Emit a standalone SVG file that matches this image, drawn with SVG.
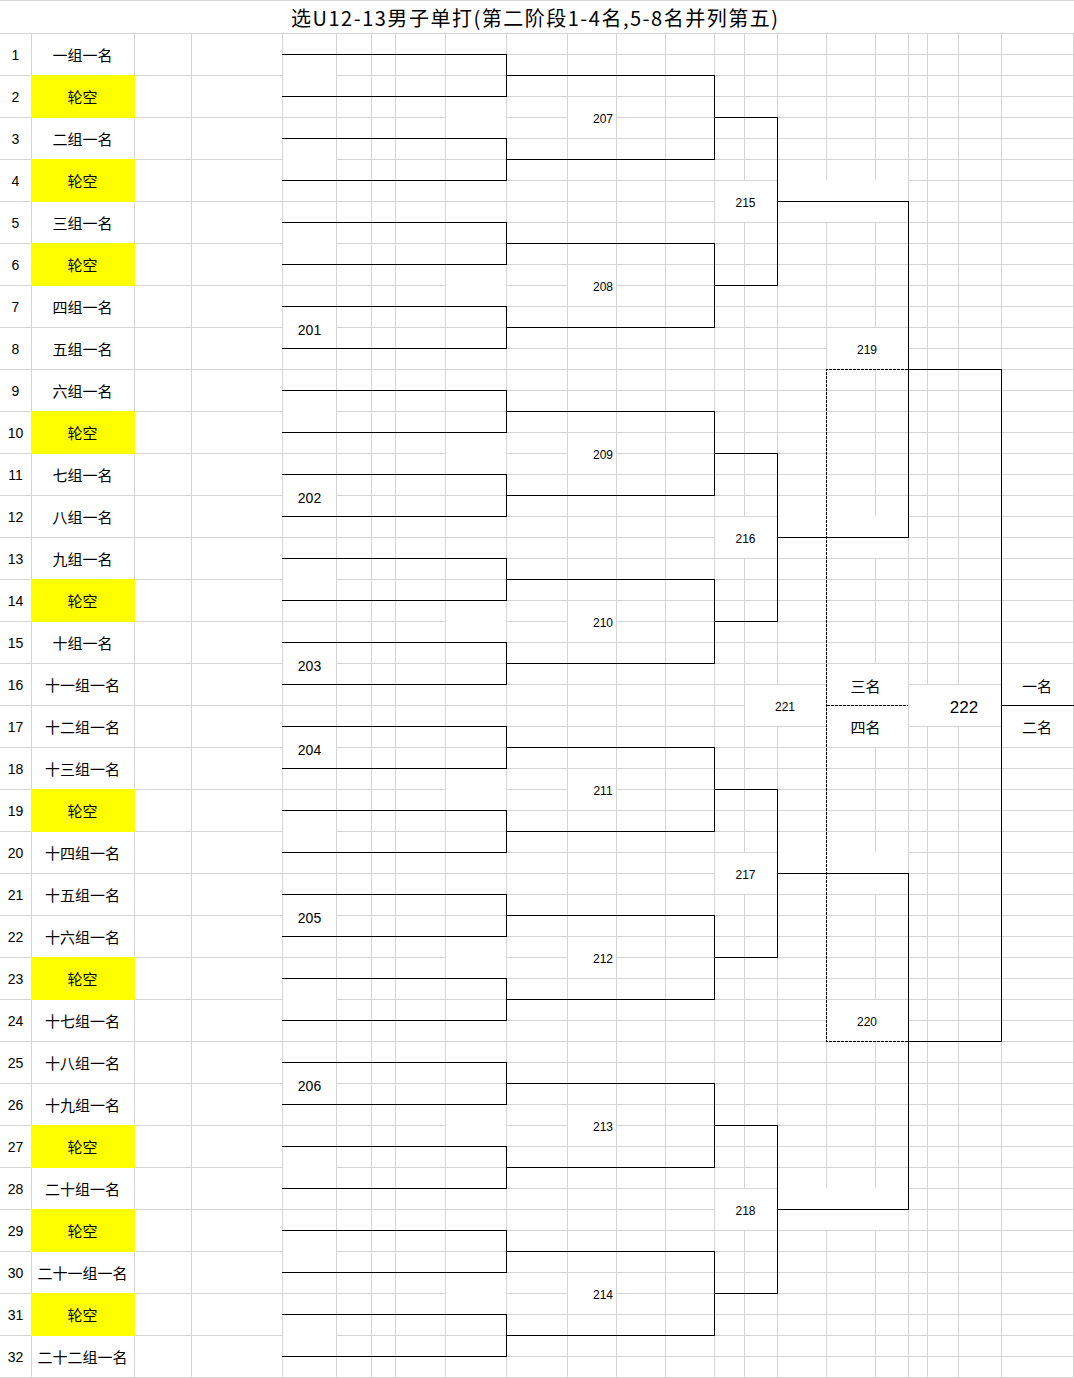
<svg xmlns="http://www.w3.org/2000/svg" width="1074" height="1378" viewBox="0 0 1074 1378">
<style>
.grid{fill:none;stroke:#d4d4d4;stroke-width:1;shape-rendering:crispEdges}
.cover{fill:#ffffff}
.bye{fill:#ffff00}
.ln{fill:none;stroke:#000;stroke-width:1;shape-rendering:crispEdges}
.dash{fill:none;stroke:#000;stroke-width:1;stroke-dasharray:3 1;shape-rendering:crispEdges}
.num{font-family:"Liberation Sans",Arial,sans-serif;font-size:14px;text-anchor:middle;fill:#000}
.name{font-family:"Noto Sans CJK SC","Noto Sans",sans-serif;font-size:15px;text-anchor:middle;fill:#000}
.m14{font-family:"Liberation Sans",Arial,sans-serif;font-size:14px;text-anchor:middle;fill:#000}
.m12{font-family:"Liberation Sans",Arial,sans-serif;font-size:12px;text-anchor:middle;fill:#000}
.m17{font-family:"Liberation Sans",Arial,sans-serif;font-size:17px;text-anchor:middle;fill:#000}
.title{font-family:"Noto Sans CJK SC","Noto Sans",sans-serif;font-size:20px;text-anchor:middle;fill:#000}
</style>
<rect x="0" y="0" width="1074" height="1378" fill="#ffffff"/>
<g id="grid">
<path class="grid" d="M0 0.5H1074M0 33.5H1074M0 75.5H1074M0 117.5H1074M0 159.5H1074M0 201.5H1074M0 243.5H1074M0 285.5H1074M0 327.5H1074M0 369.5H1074M0 411.5H1074M0 453.5H1074M0 495.5H1074M0 537.5H1074M0 579.5H1074M0 621.5H1074M0 663.5H1074M0 705.5H1074M0 747.5H1074M0 789.5H1074M0 831.5H1074M0 873.5H1074M0 915.5H1074M0 957.5H1074M0 999.5H1074M0 1041.5H1074M0 1083.5H1074M0 1125.5H1074M0 1167.5H1074M0 1209.5H1074M0 1251.5H1074M0 1293.5H1074M0 1335.5H1074M0 1377.5H1074"/>
<path class="grid" d="M282 54.5H1074M282 96.5H1074M282 138.5H1074M282 180.5H1074M282 222.5H1074M282 264.5H1074M282 306.5H1074M282 348.5H1074M282 390.5H1074M282 432.5H1074M282 474.5H1074M282 516.5H1074M282 558.5H1074M282 600.5H1074M282 642.5H1074M282 684.5H1074M282 726.5H1074M282 768.5H1074M282 810.5H1074M282 852.5H1074M282 894.5H1074M282 936.5H1074M282 978.5H1074M282 1020.5H1074M282 1062.5H1074M282 1104.5H1074M282 1146.5H1074M282 1188.5H1074M282 1230.5H1074M282 1272.5H1074M282 1314.5H1074M282 1356.5H1074"/>
<path class="grid" d="M31.5 33V1378M134.5 33V1378M191.5 33V1378M282.5 33V1378M336.5 33V1378M371.5 33V1378M395.5 33V1378M445.5 33V1378M506.5 33V1378M567.5 33V1378M616.5 33V1378M665.5 33V1378M714.5 33V1378M744.5 33V1378M777.5 33V1378M826.5 33V1378M875.5 33V1378M908.5 33V1378M927.5 33V1378M958.5 33V1378M1001.5 33V1378M1073.5 33V1378"/>
</g>
<g id="cells">
<rect class="cover" x="283" y="55" width="53" height="41"/><rect class="cover" x="283" y="139" width="53" height="41"/><rect class="cover" x="283" y="223" width="53" height="41"/><rect class="cover" x="283" y="307" width="53" height="41"/><rect class="cover" x="283" y="391" width="53" height="41"/><rect class="cover" x="283" y="475" width="53" height="41"/><rect class="cover" x="283" y="559" width="53" height="41"/><rect class="cover" x="283" y="643" width="53" height="41"/><rect class="cover" x="283" y="727" width="53" height="41"/><rect class="cover" x="283" y="811" width="53" height="41"/><rect class="cover" x="283" y="895" width="53" height="41"/><rect class="cover" x="283" y="979" width="53" height="41"/><rect class="cover" x="283" y="1063" width="53" height="41"/><rect class="cover" x="283" y="1147" width="53" height="41"/><rect class="cover" x="283" y="1231" width="53" height="41"/><rect class="cover" x="283" y="1315" width="53" height="41"/>
<rect class="cover" x="446" y="97" width="60" height="41"/><rect class="cover" x="446" y="265" width="60" height="41"/><rect class="cover" x="446" y="433" width="60" height="41"/><rect class="cover" x="446" y="601" width="60" height="41"/><rect class="cover" x="446" y="769" width="60" height="41"/><rect class="cover" x="446" y="937" width="60" height="41"/><rect class="cover" x="446" y="1105" width="60" height="41"/><rect class="cover" x="446" y="1273" width="60" height="41"/>
<rect class="cover" x="568" y="97" width="48" height="41"/><rect class="cover" x="568" y="265" width="48" height="41"/><rect class="cover" x="568" y="433" width="48" height="41"/><rect class="cover" x="568" y="601" width="48" height="41"/><rect class="cover" x="568" y="769" width="48" height="41"/><rect class="cover" x="568" y="937" width="48" height="41"/><rect class="cover" x="568" y="1105" width="48" height="41"/><rect class="cover" x="568" y="1273" width="48" height="41"/>
<rect class="cover" x="715" y="181" width="62" height="41"/><rect class="cover" x="715" y="517" width="62" height="41"/><rect class="cover" x="715" y="853" width="62" height="41"/><rect class="cover" x="715" y="1189" width="62" height="41"/>
<rect class="cover" x="778" y="180" width="130" height="42"/><rect class="cover" x="778" y="516" width="130" height="42"/><rect class="cover" x="778" y="852" width="130" height="42"/><rect class="cover" x="778" y="1188" width="130" height="42"/>
<rect class="cover" x="827" y="328" width="81" height="41"/><rect class="cover" x="827" y="1000" width="81" height="41"/><rect class="cover" x="745" y="685" width="81" height="41"/><rect class="cover" x="827" y="664" width="81" height="41"/><rect class="cover" x="827" y="706" width="81" height="41"/><rect class="cover" x="909" y="685" width="92" height="41"/><rect class="cover" x="1002" y="664" width="71" height="41"/><rect class="cover" x="1002" y="706" width="71" height="41"/>
<rect class="bye" x="31" y="75" width="104" height="43"/><rect class="bye" x="31" y="159" width="104" height="43"/><rect class="bye" x="31" y="243" width="104" height="43"/><rect class="bye" x="31" y="411" width="104" height="43"/><rect class="bye" x="31" y="579" width="104" height="43"/><rect class="bye" x="31" y="789" width="104" height="43"/><rect class="bye" x="31" y="957" width="104" height="43"/><rect class="bye" x="31" y="1125" width="104" height="43"/><rect class="bye" x="31" y="1209" width="104" height="43"/><rect class="bye" x="31" y="1293" width="104" height="43"/>
</g>
<g id="connectors">
<path class="ln" d="M282 54.5H506.5V96.5H282M282 138.5H506.5V180.5H282M282 222.5H506.5V264.5H282M282 306.5H506.5V348.5H282M282 390.5H506.5V432.5H282M282 474.5H506.5V516.5H282M282 558.5H506.5V600.5H282M282 642.5H506.5V684.5H282M282 726.5H506.5V768.5H282M282 810.5H506.5V852.5H282M282 894.5H506.5V936.5H282M282 978.5H506.5V1020.5H282M282 1062.5H506.5V1104.5H282M282 1146.5H506.5V1188.5H282M282 1230.5H506.5V1272.5H282M282 1314.5H506.5V1356.5H282"/>
<path class="ln" d="M506.5 75.5H714.5V159.5H506.5M506.5 243.5H714.5V327.5H506.5M506.5 411.5H714.5V495.5H506.5M506.5 579.5H714.5V663.5H506.5M506.5 747.5H714.5V831.5H506.5M506.5 915.5H714.5V999.5H506.5M506.5 1083.5H714.5V1167.5H506.5M506.5 1251.5H714.5V1335.5H506.5"/>
<path class="ln" d="M714.5 117.5H777.5V285.5H714.5M714.5 453.5H777.5V621.5H714.5M714.5 789.5H777.5V957.5H714.5M714.5 1125.5H777.5V1293.5H714.5"/>
<path class="ln" d="M777.5 201.5H908.5V537.5H777.5M777.5 873.5H908.5V1209.5H777.5"/>
<path class="ln" d="M908.5 369.5H1001.5V1041.5H908.5M1001.5 705.5H1074"/>
<path class="dash" d="M908 369.5H826.5V1041.5H908M826.5 705.5H908"/>
</g>
<g id="title"><text class="title" x="534.5" y="26" textLength="487">选U12-13男子单打(第二阶段1-4名,5-8名并列第五)</text></g>
<g id="p1"><text class="num" x="15.5" y="59.5">1</text><text class="name" x="82.5" y="61">一组一名</text></g>
<g id="p2"><text class="num" x="15.5" y="101.5">2</text><text class="name" x="82.5" y="103">轮空</text></g>
<g id="p3"><text class="num" x="15.5" y="143.5">3</text><text class="name" x="82.5" y="145">二组一名</text></g>
<g id="p4"><text class="num" x="15.5" y="185.5">4</text><text class="name" x="82.5" y="187">轮空</text></g>
<g id="p5"><text class="num" x="15.5" y="227.5">5</text><text class="name" x="82.5" y="229">三组一名</text></g>
<g id="p6"><text class="num" x="15.5" y="269.5">6</text><text class="name" x="82.5" y="271">轮空</text></g>
<g id="p7"><text class="num" x="15.5" y="311.5">7</text><text class="name" x="82.5" y="313">四组一名</text></g>
<g id="p8"><text class="num" x="15.5" y="353.5">8</text><text class="name" x="82.5" y="355">五组一名</text></g>
<g id="p9"><text class="num" x="15.5" y="395.5">9</text><text class="name" x="82.5" y="397">六组一名</text></g>
<g id="p10"><text class="num" x="15.5" y="437.5">10</text><text class="name" x="82.5" y="439">轮空</text></g>
<g id="p11"><text class="num" x="15.5" y="479.5">11</text><text class="name" x="82.5" y="481">七组一名</text></g>
<g id="p12"><text class="num" x="15.5" y="521.5">12</text><text class="name" x="82.5" y="523">八组一名</text></g>
<g id="p13"><text class="num" x="15.5" y="563.5">13</text><text class="name" x="82.5" y="565">九组一名</text></g>
<g id="p14"><text class="num" x="15.5" y="605.5">14</text><text class="name" x="82.5" y="607">轮空</text></g>
<g id="p15"><text class="num" x="15.5" y="647.5">15</text><text class="name" x="82.5" y="649">十组一名</text></g>
<g id="p16"><text class="num" x="15.5" y="689.5">16</text><text class="name" x="82.5" y="691">十一组一名</text></g>
<g id="p17"><text class="num" x="15.5" y="731.5">17</text><text class="name" x="82.5" y="733">十二组一名</text></g>
<g id="p18"><text class="num" x="15.5" y="773.5">18</text><text class="name" x="82.5" y="775">十三组一名</text></g>
<g id="p19"><text class="num" x="15.5" y="815.5">19</text><text class="name" x="82.5" y="817">轮空</text></g>
<g id="p20"><text class="num" x="15.5" y="857.5">20</text><text class="name" x="82.5" y="859">十四组一名</text></g>
<g id="p21"><text class="num" x="15.5" y="899.5">21</text><text class="name" x="82.5" y="901">十五组一名</text></g>
<g id="p22"><text class="num" x="15.5" y="941.5">22</text><text class="name" x="82.5" y="943">十六组一名</text></g>
<g id="p23"><text class="num" x="15.5" y="983.5">23</text><text class="name" x="82.5" y="985">轮空</text></g>
<g id="p24"><text class="num" x="15.5" y="1025.5">24</text><text class="name" x="82.5" y="1027">十七组一名</text></g>
<g id="p25"><text class="num" x="15.5" y="1067.5">25</text><text class="name" x="82.5" y="1069">十八组一名</text></g>
<g id="p26"><text class="num" x="15.5" y="1109.5">26</text><text class="name" x="82.5" y="1111">十九组一名</text></g>
<g id="p27"><text class="num" x="15.5" y="1151.5">27</text><text class="name" x="82.5" y="1153">轮空</text></g>
<g id="p28"><text class="num" x="15.5" y="1193.5">28</text><text class="name" x="82.5" y="1195">二十组一名</text></g>
<g id="p29"><text class="num" x="15.5" y="1235.5">29</text><text class="name" x="82.5" y="1237">轮空</text></g>
<g id="p30"><text class="num" x="15.5" y="1277.5">30</text><text class="name" x="82.5" y="1279">二十一组一名</text></g>
<g id="p31"><text class="num" x="15.5" y="1319.5">31</text><text class="name" x="82.5" y="1321">轮空</text></g>
<g id="p32"><text class="num" x="15.5" y="1361.5">32</text><text class="name" x="82.5" y="1363">二十二组一名</text></g>
<g id="m201"><text class="m14" x="309.5" y="334.5">201</text></g>
<g id="m202"><text class="m14" x="309.5" y="502.5">202</text></g>
<g id="m203"><text class="m14" x="309.5" y="670.5">203</text></g>
<g id="m204"><text class="m14" x="309.5" y="754.5">204</text></g>
<g id="m205"><text class="m14" x="309.5" y="922.5">205</text></g>
<g id="m206"><text class="m14" x="309.5" y="1090.5">206</text></g>
<g id="m207"><text class="m12" x="603" y="122.5">207</text></g>
<g id="m208"><text class="m12" x="603" y="290.5">208</text></g>
<g id="m209"><text class="m12" x="603" y="458.5">209</text></g>
<g id="m210"><text class="m12" x="603" y="626.5">210</text></g>
<g id="m211"><text class="m12" x="603" y="794.5">211</text></g>
<g id="m212"><text class="m12" x="603" y="962.5">212</text></g>
<g id="m213"><text class="m12" x="603" y="1130.5">213</text></g>
<g id="m214"><text class="m12" x="603" y="1298.5">214</text></g>
<g id="m215"><text class="m12" x="745.5" y="206.5">215</text></g>
<g id="m216"><text class="m12" x="745.5" y="542.5">216</text></g>
<g id="m217"><text class="m12" x="745.5" y="878.5">217</text></g>
<g id="m218"><text class="m12" x="745.5" y="1214.5">218</text></g>
<g id="m219"><text class="m12" x="867" y="353.5">219</text></g>
<g id="m220"><text class="m12" x="867" y="1025.5">220</text></g>
<g id="m221"><text class="m12" x="785" y="710.5">221</text></g>
<g id="m222"><text class="m17" x="964" y="712.5">222</text></g>
<g id="r3"><text class="name" x="865.5" y="691.5">三名</text></g>
<g id="r4"><text class="name" x="865.5" y="733">四名</text></g>
<g id="r1"><text class="name" x="1037" y="691.5">一名</text></g>
<g id="r2"><text class="name" x="1037" y="733">二名</text></g>
</svg>
